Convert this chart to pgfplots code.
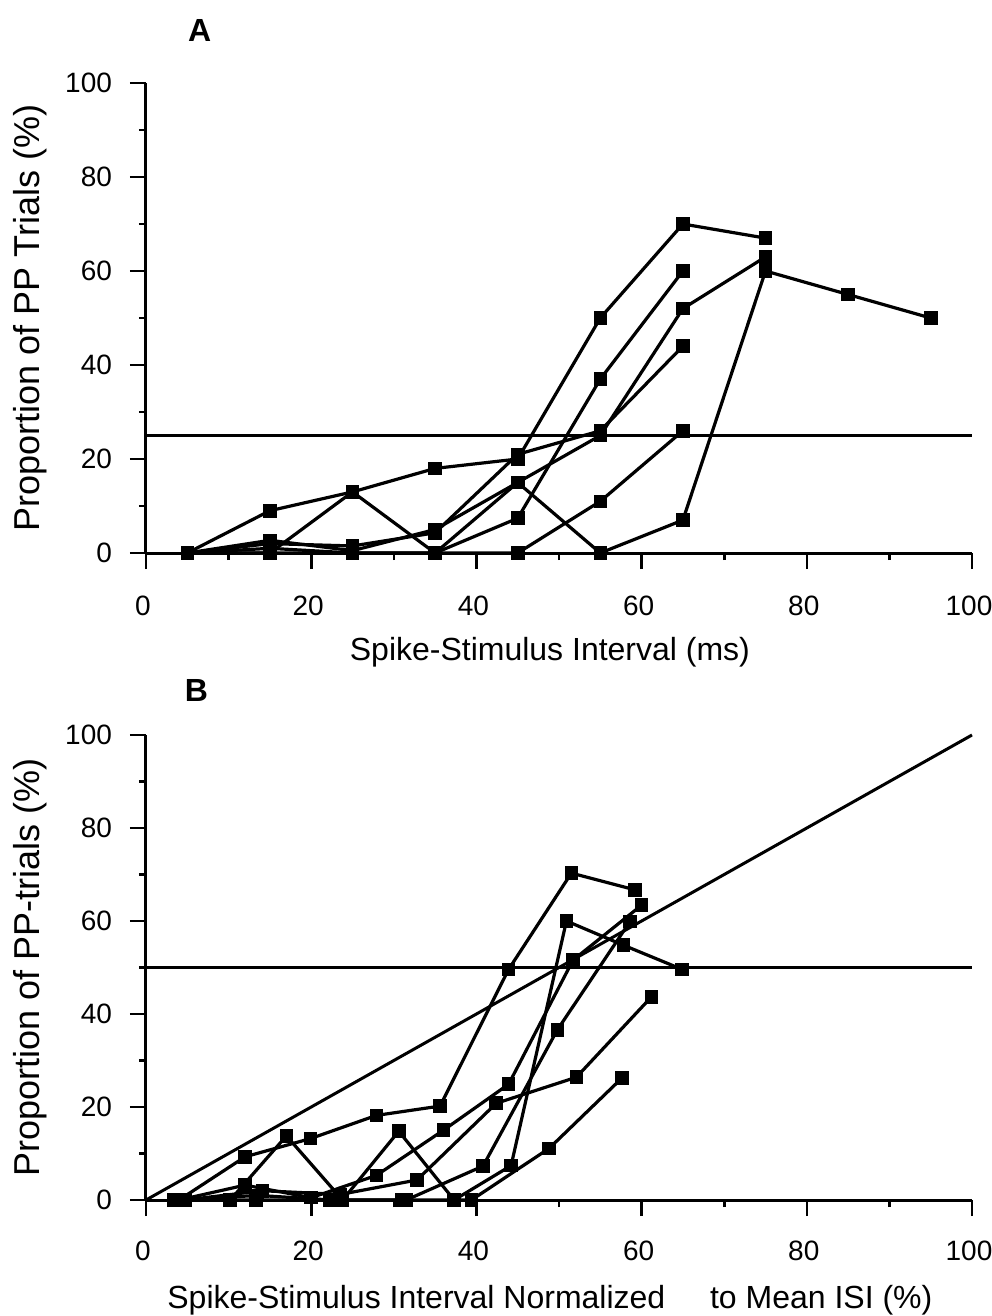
\documentclass[border=0pt]{standalone}
\usepackage{pgfplots}
\pgfplotsset{compat=1.18}
\usepackage{fontspec}
\setmainfont{Liberation Sans}
\pgfplotsset{
  myax/.style={
    scale only axis, width=413pt,
    xmin=0,xmax=100,ymin=0,ymax=100,
    axis x line=bottom, axis y line=left,
    axis line style={line width=1.5pt,-},
    xtick={0,20,...,100}, ytick={0,20,...,100},
    minor xtick={10,30,50,70,90}, minor ytick={10,30,50,70,90},
    tick align=outside,
    major tick length=8pt, minor tick length=3.5pt,
    every tick/.style={line width=1.3pt,black},
    /pgf/number format/assume math mode=true,
    ticklabel style={font=\fontsize{14}{17}\selectfont},
    yticklabel style={xshift=-3.5pt},
    label style={font=\fontsize{16}{19}\selectfont},
    ylabel style={font=\fontsize{18}{21}\selectfont},
    title style={font=\fontsize{16}{19}\selectfont\bfseries},
    clip=false,
  },
  ser/.style={line width=1.6pt, black, mark=square*, mark size=2.6pt, mark options={solid,fill=black}},
  ref/.style={line width=1.5pt, black, no markers},
}
\begin{document}
\fontsize{16}{19}\selectfont
\begin{tikzpicture}
\path[use as bounding box] (0,0) rectangle (495.5pt,-658pt);
\begin{axis}[myax, height=235pt, at={(73pt,-276.5pt)}, anchor=south west,
  xticklabel style={yshift=-8pt, xshift=-1.5pt},
  title={A}, title style={at={(rel axis cs:0.065,1)}, anchor=center, yshift=20.5pt},
  xlabel={Spike-Stimulus Interval (ms)},
  xlabel style={at={(axis description cs:0.489,-0.2106)}, anchor=center},
  ylabel={Proportion of PP Trials (\%)},
  ylabel style={at={(axis description cs:-0.1404,0.5)}, anchor=center}]
\addplot[ref] coordinates {(0,25) (100,25)};
% S1
\addplot[ser] coordinates {(5,0) (15,9) (25,13) (35,18) (45,20) (55,50) (65,70) (75,67)};
% S2
\addplot[ser] coordinates {(5,0) (15,1) (25,0) (35,0) (45,7.4) (55,37) (65,60)};
% S3
\addplot[ser] coordinates {(5,0) (15,2.7) (25,0.5) (35,5) (45,15) (55,25) (65,52) (75,63)};
% S4
\addplot[ser] coordinates {(5,0) (15,2) (25,1.5) (35,4.3) (45,21) (55,26) (65,44)};
% S5
\addplot[ser] coordinates {(5,0) (15,0) (25,0) (35,0) (45,0) (55,11) (65,26)};
% S6
\addplot[ser] coordinates {(5,0) (15,0) (25,13) (35,0) (45,15) (55,0) (65,7) (75,60) (85,55) (95,50)};
\end{axis}
\begin{axis}[myax, height=232.5pt, at={(73pt,-600pt)}, anchor=south west,
  xticklabel style={yshift=-7pt, xshift=-1.5pt},
  title={B}, title style={at={(rel axis cs:0.061,1)}, anchor=center, yshift=16.5pt},
  xlabel={Spike-Stimulus Interval Normalized\hspace{1.4em}to Mean ISI (\%)},
  xlabel style={at={(axis description cs:0.489,-0.215)}, anchor=center},
  ylabel={Proportion of PP-trials (\%)},
  ylabel style={at={(axis description cs:-0.1404,0.5)}, anchor=center}]
\addplot[ref] coordinates {(0,50) (100,50)};
\addplot[ref] coordinates {(0,0) (100,100)};
% S1
\addplot[ser] coordinates {(4,0) (12,9.3) (19.9,13.2) (27.9,18.2) (35.6,20.2) (43.9,49.6) (51.5,70.3) (59.2,66.7)};
% S2
\addplot[ser] coordinates {(4.5,0) (13.5,1) (22.5,0) (31.5,0) (40.8,7.3) (49.8,36.6) (58.6,59.9)};
% S3
\addplot[ser] coordinates {(4,0) (12,3.2) (20,0.5) (27.9,5.3) (36,15) (43.9,24.9) (51.7,51.6) (60,63.4)};
% S4
\addplot[ser] coordinates {(4.7,0) (14.1,2) (23.5,1.2) (32.8,4.3) (42.4,20.8) (52.1,26.4) (61.2,43.7)};
% S5
\addplot[ser] coordinates {(4.4,0) (13.3,0) (22.2,0) (31,0) (39.4,0) (48.8,11.1) (57.6,26.2)};
% S6
\addplot[ser] coordinates {(3.4,0) (10.2,0) (17,13.8) (23.8,0) (30.6,14.8) (37.3,0) (44.2,7.4) (50.9,60) (57.8,54.8) (64.9,49.6)};
\end{axis}
\end{tikzpicture}
\end{document}
